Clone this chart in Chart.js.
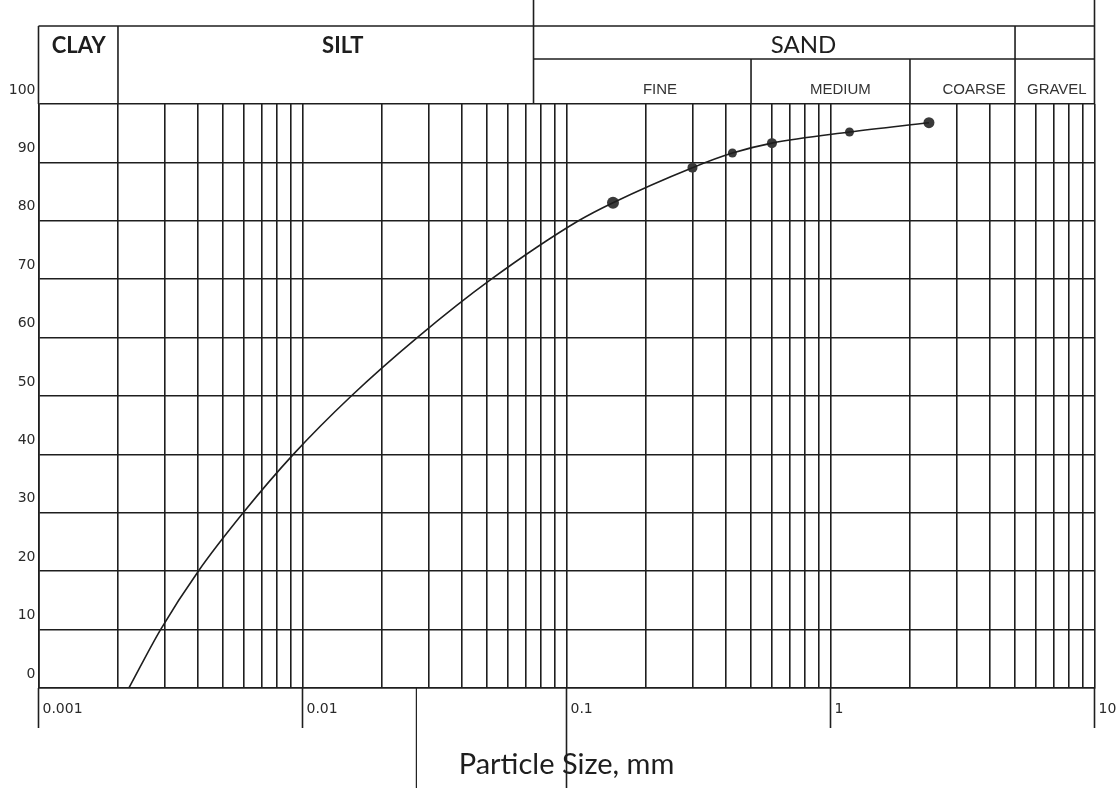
<!DOCTYPE html>
<html>
<head>
<meta charset="utf-8">
<script src="https://cdn.jsdelivr.net/npm/chart.js@4.4.1/dist/chart.umd.min.js"></script>
<style>
html,body{margin:0;padding:0;background:#fff;}
#wrap{position:relative;width:1116px;height:788px;}
</style>
</head>
<body>
<div id="wrap"><canvas id="c" width="1116" height="788"></canvas></div>
<script>
// ---- data ----
const hydroSize  = [0.0022, 0.0029, 0.00403, 0.00596, 0.00923, 0.0153, 0.0272, 0.0519, 0.111];
const hydroFiner = [0, 10, 20, 30, 40, 50, 60, 70, 80];
const sieveSize  = [0.15, 0.3, 0.425, 0.6, 1.18, 2.36];
const sieveFiner = [83.1, 89.1, 91.6, 93.3, 95.2, 96.8];

const xTickValues = [0.001, 0.01, 0.1, 1, 10];
const xTickLabels = ['0.001', '0.01', '0.1', '1', '10'];
const yTickValues = [0, 10, 20, 30, 40, 50, 60, 70, 80, 90, 100];
const yTickLabels = ['0', '10', '20', '30', '40', '50', '60', '70', '80', '90', '100'];
const gridMultipliers = [1, 2, 3, 4, 5, 6, 7, 8, 9];

const zoneNames  = ['CLAY', 'SILT', 'SAND'];
const zoneBounds = [0.001, 0.002, 0.075, 5];
const sandSubNames  = ['FINE', 'MEDIUM', 'COARSE', 'GRAVEL'];
const sandSubBounds = [0.075, 0.5, 2, 5, 10];
const xTitle = 'Particle Size, mm';

// ---- derived structures ----
const gridValues = [];
xTickValues.slice(0, -1).forEach(d => gridMultipliers.forEach(m => gridValues.push(+(m * d).toPrecision(6))));
gridValues.push(xTickValues[xTickValues.length - 1]);

const curveData = hydroSize.map((s, i) => ({x: s, y: hydroFiner[i]}))
  .concat(sieveSize.map((s, i) => ({x: s, y: sieveFiner[i]})));
const sieveData = sieveSize.map((s, i) => ({x: s, y: sieveFiner[i]}));

const INK = '#1e1e1e';
const GRID_W = 1.6;

const headerPlugin = {
  id: 'soilHeader',
  afterDraw(chart, args, o) {
    const {ctx, chartArea: ca} = chart;
    const xs = chart.scales.x;
    const X = v => xs.getPixelForValue(v);
    const top = ca.top - o.height, mid = ca.top - o.subHeight, bot = ca.top;
    ctx.save();
    ctx.strokeStyle = INK;
    ctx.lineWidth = GRID_W;
    const line = (x1, y1, x2, y2) => { ctx.beginPath(); ctx.moveTo(x1, y1); ctx.lineTo(x2, y2); ctx.stroke(); };
    // header frame
    line(X(zoneBounds[0]), top, X(sandSubBounds[sandSubBounds.length - 1]), top);
    line(X(zoneBounds[2]), mid, X(sandSubBounds[sandSubBounds.length - 1]), mid);
    line(X(zoneBounds[0]), top, X(zoneBounds[0]), bot);
    line(X(zoneBounds[1]), top, X(zoneBounds[1]), bot);
    line(X(zoneBounds[2]), 0, X(zoneBounds[2]), bot);
    line(X(sandSubBounds[1]), mid, X(sandSubBounds[1]), bot);
    line(X(sandSubBounds[2]), mid, X(sandSubBounds[2]), bot);
    line(X(zoneBounds[3]), top, X(zoneBounds[3]), bot);
    line(X(sandSubBounds[4]), 0, X(sandSubBounds[4]), bot);
    // decade ticks below the axis
    xTickValues.forEach(v => {
      const len = v === 0.1 ? chart.height - ca.bottom : o.tickLen;
      line(X(v), ca.bottom, X(v), ca.bottom + len);
    });
    ctx.lineWidth = 1.2;
    line(X(o.ruleAt), ca.bottom, X(o.ruleAt), chart.height);
    // texts
    ctx.fillStyle = INK;
    ctx.textAlign = 'center';
    ctx.textBaseline = 'middle';
    ctx.font = 'bold 22px Lato';
    ctx.fillText(zoneNames[0], X(o.labelAt[0]), top + o.bigTextDy);
    ctx.fillText(zoneNames[1], X(o.labelAt[1]), top + o.bigTextDy);
    ctx.font = '24px Lato';
    ctx.fillText(zoneNames[2], X(o.labelAt[2]), top + o.sandTextDy);
    ctx.fillStyle = '#333';
    ctx.font = '15px "Liberation Sans"';
    sandSubNames.forEach((n, i) => ctx.fillText(n, X(o.subLabelAt[i]), bot - o.subTextDy));
    ctx.restore();
  }
};

new Chart(document.getElementById('c'), {
  type: 'scatter',
  data: {
    datasets: [
      {
        label: 'curve',
        data: curveData,
        showLine: true,
        borderColor: INK,
        borderWidth: 1.6,
        pointRadius: 0,
        cubicInterpolationMode: 'monotone',
        fill: false
      },
      {
        label: 'sieve',
        data: sieveData,
        showLine: false,
        pointRadius: [6, 5, 4.5, 5, 4.5, 5.5],
        pointBackgroundColor: '#3a3a3a',
        pointBorderColor: '#3a3a3a',
        pointBorderWidth: 0
      }
    ]
  },
  options: {
    responsive: false,
    animation: false,
    events: [],
    layout: {padding: {top: 104, right: 21.5, bottom: 0, left: 0}},
    plugins: {
      legend: {display: false},
      tooltip: {enabled: false},
      soilHeader: {
        height: 78, subHeight: 45, tickLen: 40, ruleAt: 0.027,
        labelAt: [0.00142, 0.0142, 0.79],
        subLabelAt: [0.226, 1.09, 3.5, 7.2],
        bigTextDy: 20, sandTextDy: 19, subTextDy: 14
      }
    },
    scales: {
      x: {
        type: 'logarithmic',
        min: 0.001,
        max: 10,
        afterBuildTicks: s => { s.ticks = gridValues.map(v => ({value: v})); },
        afterFit: s => { s.height = 100; s.paddingLeft = 0; s.paddingRight = 0; },
        grid: {color: INK, lineWidth: GRID_W, drawTicks: false},
        border: {color: INK, width: GRID_W},
        ticks: {
          autoSkip: false, maxRotation: 0, minRotation: 0,
          align: 'start', labelOffset: 4, padding: 13,
          color: '#2a2a2a',
          font: {family: 'DejaVu Sans', size: 14},
          callback: v => {
            const i = xTickValues.findIndex(t => Math.abs(t - v) / t < 1e-6);
            return i >= 0 ? xTickLabels[i] : '';
          }
        },
        title: {
          display: true, text: xTitle, color: INK,
          font: {family: 'Lato', size: 29},
          padding: {top: 0, bottom: 6}
        }
      },
      y: {
        type: 'linear',
        min: 0,
        max: 100,
        afterBuildTicks: s => { s.ticks = yTickValues.map(v => ({value: v})); },
        afterFit: s => { s.width = 38.5; s.paddingTop = 0; s.paddingBottom = 0; },
        grid: {color: INK, lineWidth: GRID_W, drawTicks: false},
        border: {color: INK, width: GRID_W},
        ticks: {
          padding: 3, labelOffset: -14,
          color: '#2a2a2a',
          font: {family: 'DejaVu Sans', size: 14},
          callback: v => {
            const i = yTickValues.indexOf(v);
            return i >= 0 ? yTickLabels[i] : '';
          }
        }
      }
    }
  },
  plugins: [headerPlugin]
});
</script>
</body>
</html>
